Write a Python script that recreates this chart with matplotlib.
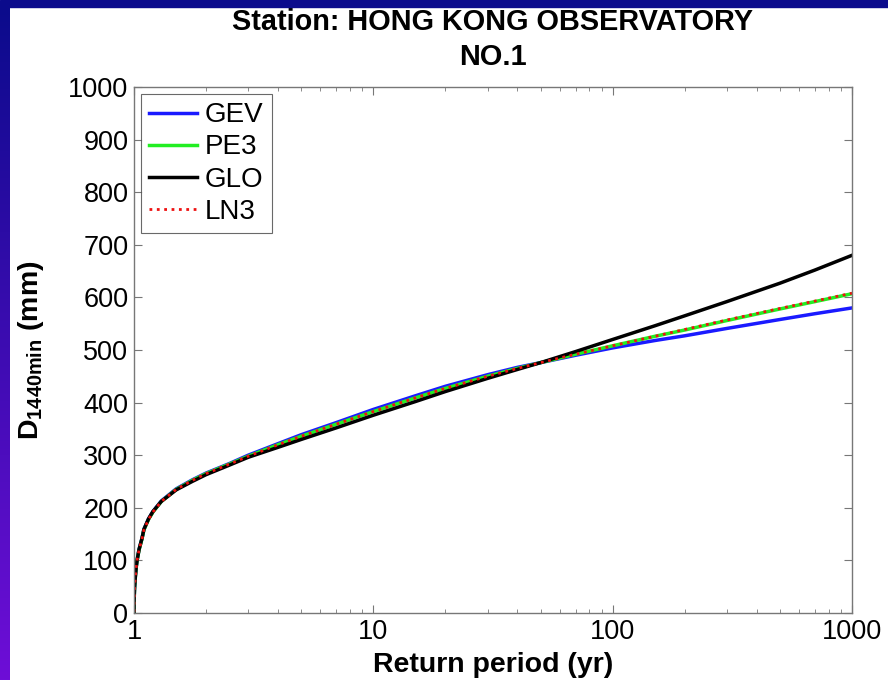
import numpy as np
import matplotlib.pyplot as plt
from matplotlib.patches import Rectangle

plt.rcParams['font.family'] = ['Liberation Sans', 'DejaVu Sans']
plt.rcParams['mathtext.fontset'] = 'custom'
plt.rcParams['mathtext.rm'] = 'Liberation Sans:bold'
plt.rcParams['mathtext.it'] = 'Liberation Sans:bold'
plt.rcParams['mathtext.bf'] = 'Liberation Sans:bold'

# Return periods (yr) and the quantiles (mm)
T = [1.0001, 1.001, 1.005, 1.01, 1.02, 1.03, 1.05, 1.08, 1.1, 1.15, 1.2, 1.3,
     1.5, 1.75, 2, 2.5, 3, 4, 5, 7, 10, 15, 20, 30, 40, 50, 70, 100, 150, 200,
     300, 500, 700, 1000]
gev = [2, 27, 50, 64, 86, 101, 121, 142, 159, 179, 193, 213,
       236, 253, 266, 284, 300, 322, 339, 362, 387, 413, 431, 453, 467, 476, 490, 504, 518, 527,
       541, 558, 569, 580]
pe3 = [2, 25, 48, 62, 85, 100, 120, 141, 158, 178, 192, 212,
       235, 252, 265, 283, 298, 320, 336, 359, 383, 409, 427, 450, 465, 476, 492, 508, 526, 538,
       556, 578, 592, 607]
glo = [1, 22, 46, 61, 85, 100, 121, 142, 159, 179, 193, 212,
       234, 250, 263, 281, 296, 315, 330, 352, 376, 402, 421, 446, 463, 476, 497, 520, 546, 565,
       592, 627, 652, 680]
ln3 = [2, 24, 47, 61, 84, 100, 120, 141, 158, 178, 192, 212,
       235, 252, 265, 283, 298, 320, 336, 359, 383, 409, 427, 450, 465, 476, 492, 508, 526, 539,
       557, 579, 593, 608]

fig = plt.figure(figsize=(8.88, 6.8), dpi=100, facecolor='white')

# blue frame of the slide: top band and a blue-to-purple left band
fig.patches.append(Rectangle((0, 1 - 7 / 680), 1, 7 / 680, transform=fig.transFigure,
                             color='#0b0b8c', zorder=0))
band = fig.add_axes([0, 0, 9 / 888, 1 - 7 / 680])
grad = np.linspace(0, 1, 256).reshape(-1, 1)
top_c = np.array([11, 11, 140]) / 255
bot_c = np.array([110, 14, 215]) / 255
img = top_c[None, None, :] * (1 - grad[:, :, None]) + bot_c[None, None, :] * grad[:, :, None]
band.imshow(img, aspect='auto', extent=[0, 1, 0, 1], origin='upper')
band.axis('off')

ax = fig.add_axes([134 / 888, 67 / 680, 718 / 888, 526 / 680])
ax.plot(T, gev, color='#1a1aff', lw=2.5, label='GEV')
ax.plot(T, pe3, color='#22ee22', lw=2.5, label='PE3')
ax.plot(T, glo, color='black', lw=2.5, label='GLO')
ax.plot(T, ln3, color='#ee1111', lw=2.0, linestyle=':', label='LN3')

ax.set_xscale('log')
ax.set_xlim(1, 1000)
ax.set_ylim(0, 1000)
ax.set_yticks(np.arange(0, 1001, 100))
ax.set_xticks([1, 10, 100, 1000])
ax.set_xticklabels(['1', '10', '100', '1000'])

for s in ax.spines.values():
    s.set_color('#777777')
    s.set_linewidth(1.0)
ax.tick_params(axis='both', which='both', direction='in', top=True, right=True,
               color='#777777', labelsize=19.5)
ax.tick_params(which='major', length=6, pad=4)
ax.tick_params(which='minor', length=3)

ax.set_xlabel('Return period (yr)', fontsize=20.5, fontweight='bold', labelpad=5)
ax.set_ylabel(r'D$_{1440min}$ (mm)', fontsize=20.5, fontweight='bold')
ax.yaxis.set_label_coords(-0.123, 0.5)
ax.set_title('Station: HONG KONG OBSERVATORY\nNO.1', fontsize=20.8, fontweight='bold',
             pad=16, linespacing=1.3)

leg = ax.legend(loc='upper left', fontsize=20, frameon=True, fancybox=False,
                edgecolor='#444444', handlelength=1.7, handletextpad=0.3,
                labelspacing=0.22, borderpad=0.3, borderaxespad=0.25)
leg.get_frame().set_linewidth(0.8)

plt.savefig('out.png', dpi=100, facecolor='white')
